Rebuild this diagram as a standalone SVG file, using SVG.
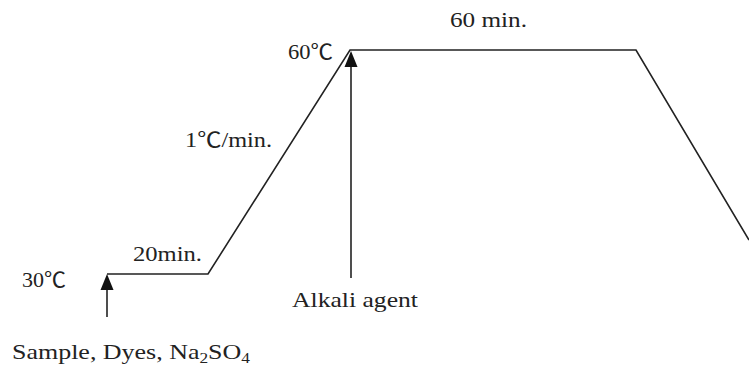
<svg xmlns="http://www.w3.org/2000/svg" width="749" height="369" viewBox="0 0 749 369">
<style>
.t{font-family:"Liberation Serif","Noto Sans CJK KR",serif;font-size:21px;fill:#222}
.ln{fill:none;stroke:#222;stroke-width:1.6}
.hd{fill:#111;stroke:none}
</style>
<rect width="749" height="369" fill="#fff"/>
<g id="connectors">
<polyline id="profile" class="ln" points="107,274 208,274 350,50 636,50 749,240"/>
<g id="arrow-start">
<line class="ln" x1="107" y1="317" x2="107" y2="288"/>
<polygon class="hd" points="107,274 113.5,290 100.5,290"/>
</g>
<g id="arrow-alkali">
<line class="ln" x1="351" y1="278" x2="351" y2="65"/>
<polygon class="hd" points="351,51 357.5,67 344.5,67"/>
</g>
</g>
<g id="label-60min"><text class="t" x="450" y="27" textLength="77" lengthAdjust="spacingAndGlyphs">60 min.</text></g>
<g id="label-60c"><text class="t" x="288" y="59" textLength="45" lengthAdjust="spacingAndGlyphs">60℃</text></g>
<g id="label-rate"><text class="t" x="185" y="147" textLength="87" lengthAdjust="spacingAndGlyphs">1℃/min.</text></g>
<g id="label-20min"><text class="t" x="133" y="261" textLength="69" lengthAdjust="spacingAndGlyphs">20min.</text></g>
<g id="label-30c"><text class="t" x="22" y="287" textLength="44" lengthAdjust="spacingAndGlyphs">30℃</text></g>
<g id="label-alkali"><text class="t" x="292" y="307" textLength="126" lengthAdjust="spacingAndGlyphs">Alkali agent</text></g>
<g id="label-sample"><text class="t" x="12" y="359" textLength="238" lengthAdjust="spacingAndGlyphs">Sample, Dyes, Na<tspan font-size="14" dy="4">2</tspan><tspan dy="-4">SO</tspan><tspan font-size="14" dy="4">4</tspan></text></g>
</svg>
